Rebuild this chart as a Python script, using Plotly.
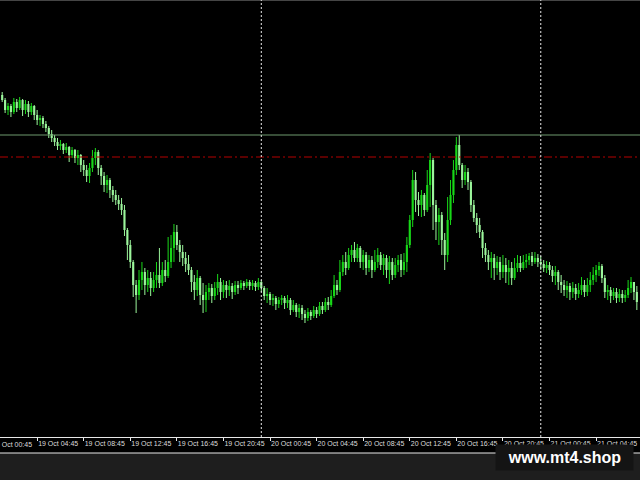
import pandas as pd
import plotly.graph_objects as go

# ---- data (M15 bars) ----
bar_start = "2020-10-19 01:45"
first_open = 1940.5

closes = [
    1940.0, 1939.0, 1939.4, 1938.8, 1939.8, 1939.2, 1940.0, 1939.0, 1939.6, 1938.8, 1939.4, 1938.5,
    1938.0, 1938.2, 1937.6, 1937.2, 1936.6, 1936.2, 1935.8, 1935.4, 1935.6, 1935.0, 1935.3, 1934.5,
    1935.0, 1934.2, 1934.5, 1933.5, 1933.0, 1932.4, 1933.2, 1934.2, 1934.8, 1933.2, 1932.4, 1931.5,
    1932.0, 1931.0, 1930.5, 1930.0, 1929.6, 1929.0, 1927.0, 1925.5, 1923.8, 1921.5, 1920.5, 1922.0,
    1922.8, 1921.5, 1922.2, 1921.2, 1922.0, 1922.5, 1921.7, 1923.0, 1922.4, 1923.8, 1925.2, 1926.8,
    1925.5, 1924.8, 1924.2, 1923.6, 1923.0, 1921.8, 1921.0, 1922.2, 1920.5, 1920.0, 1920.8, 1921.2,
    1920.4, 1921.2, 1921.8, 1920.8, 1921.5, 1921.0, 1921.4, 1920.8, 1921.5, 1921.2, 1921.7, 1921.4,
    1921.8, 1921.4, 1921.7, 1921.3, 1921.8, 1921.2, 1920.4, 1920.6, 1920.0, 1920.2, 1919.6, 1920.0,
    1920.2, 1919.7, 1920.0, 1919.0, 1919.5, 1918.8, 1919.2, 1918.6, 1918.2, 1918.8, 1918.4, 1919.0,
    1918.6, 1919.4, 1919.0, 1919.8, 1919.5, 1920.4, 1921.5, 1921.0, 1922.8, 1923.8, 1923.2, 1924.5,
    1925.0, 1924.2, 1925.2, 1923.8, 1924.5, 1923.2, 1924.0, 1923.0, 1923.8, 1924.5, 1923.5, 1924.2,
    1923.0, 1923.8, 1922.5, 1923.5, 1924.0, 1923.0, 1923.8, 1925.5, 1928.0, 1932.0, 1930.0, 1929.5,
    1930.5, 1929.0, 1931.5, 1934.0, 1929.5, 1927.8, 1928.5, 1926.0, 1924.5, 1928.0, 1930.5, 1933.0,
    1935.5, 1933.5, 1932.0, 1932.8, 1931.8, 1929.5, 1928.2, 1927.5, 1926.8, 1925.2, 1924.5, 1923.8,
    1924.2, 1923.2, 1923.8, 1922.8, 1923.5, 1922.8, 1923.2, 1922.2, 1923.2, 1923.7, 1923.2, 1923.8,
    1924.0, 1924.4, 1923.8, 1924.2, 1923.8, 1923.6, 1923.2, 1923.5, 1923.0, 1922.4, 1922.8, 1921.8,
    1921.5, 1921.0, 1921.4, 1920.8, 1921.2, 1920.6, 1921.0, 1921.5, 1920.8, 1921.5, 1922.0, 1922.5,
    1923.0, 1923.4, 1922.2, 1920.8, 1921.0, 1920.4, 1920.8, 1920.2, 1920.6, 1920.2, 1920.5, 1921.2,
    1921.8, 1920.8, 1919.8,
]

highs = [
    1940.8, 1940.2, 1939.7, 1939.6, 1940.2, 1940.1, 1940.3, 1940.1, 1940.0, 1939.9, 1939.7, 1939.5,
    1939.0, 1938.5, 1938.4, 1937.9, 1937.4, 1937.0, 1936.5, 1936.2, 1936.0, 1935.7, 1935.7, 1935.4,
    1935.3, 1935.1, 1935.0, 1934.6, 1934.0, 1933.5, 1933.7, 1935.0, 1935.2, 1935.0, 1933.5, 1932.8,
    1932.5, 1932.2, 1931.4, 1931.0, 1930.5, 1930.2, 1929.5, 1927.2, 1926.0, 1924.0, 1922.0, 1923.0,
    1923.8, 1923.2, 1923.0, 1922.8, 1922.8, 1923.8, 1925.2, 1923.8, 1924.0, 1926.3, 1926.5, 1927.6,
    1927.5, 1926.0, 1925.5, 1924.8, 1924.5, 1923.3, 1922.5, 1923.0, 1922.4, 1921.7, 1921.5, 1921.7,
    1921.6, 1921.8, 1922.6, 1922.2, 1922.0, 1921.9, 1922.0, 1921.7, 1921.9, 1921.9, 1922.0, 1921.9,
    1922.1, 1922.0, 1922.0, 1921.9, 1922.2, 1922.0, 1921.4, 1921.2, 1920.8, 1920.6, 1920.4, 1920.3,
    1920.5, 1920.4, 1920.5, 1920.2, 1920.0, 1919.7, 1919.6, 1919.5, 1919.0, 1919.2, 1919.0, 1919.4,
    1919.3, 1919.8, 1919.8, 1920.2, 1920.3, 1921.0, 1922.5, 1922.0, 1924.0, 1924.5, 1924.8, 1925.2,
    1925.5, 1925.8, 1925.6, 1925.4, 1925.0, 1924.8, 1924.5, 1924.4, 1925.0, 1925.2, 1924.8, 1924.6,
    1924.5, 1924.4, 1924.2, 1924.2, 1924.5, 1924.6, 1924.7, 1926.3, 1928.5, 1933.0, 1932.8, 1930.8,
    1931.0, 1930.7, 1933.0, 1934.7, 1934.2, 1930.0, 1929.2, 1928.8, 1926.7, 1930.3, 1932.0, 1934.0,
    1936.3, 1936.5, 1933.7, 1933.5, 1933.2, 1932.0, 1930.0, 1928.7, 1928.2, 1927.0, 1925.7, 1925.0,
    1924.8, 1924.6, 1924.4, 1924.3, 1924.5, 1924.2, 1924.0, 1923.8, 1924.2, 1924.5, 1924.4, 1924.5,
    1924.6, 1924.7, 1924.8, 1924.8, 1924.6, 1924.4, 1924.0, 1923.9, 1923.8, 1923.4, 1923.4, 1923.0,
    1922.5, 1922.0, 1921.9, 1921.7, 1921.8, 1921.6, 1921.7, 1922.3, 1922.0, 1922.2, 1922.8, 1923.3,
    1923.5, 1923.8, 1923.6, 1922.5, 1921.5, 1921.3, 1921.2, 1921.2, 1921.1, 1921.0, 1921.0, 1922.0,
    1922.3, 1921.8, 1921.4,
]

lows = [
    1939.8, 1938.7, 1938.5, 1938.3, 1938.6, 1938.8, 1939.0, 1938.4, 1938.6, 1938.3, 1938.5, 1938.0,
    1937.5, 1937.4, 1937.2, 1936.8, 1936.2, 1935.8, 1935.4, 1935.0, 1935.0, 1934.6, 1934.7, 1933.8,
    1934.2, 1933.7, 1933.5, 1932.8, 1932.4, 1931.8, 1931.7, 1932.8, 1933.5, 1932.5, 1931.5, 1930.8,
    1930.7, 1930.2, 1929.8, 1929.5, 1929.0, 1928.5, 1926.4, 1924.0, 1923.2, 1920.3, 1918.7, 1920.0,
    1921.0, 1920.5, 1920.8, 1920.4, 1920.8, 1921.2, 1921.2, 1921.4, 1921.8, 1922.2, 1923.2, 1923.8,
    1925.0, 1923.8, 1923.4, 1922.8, 1922.5, 1920.8, 1920.0, 1920.4, 1919.5, 1918.7, 1918.8, 1920.0,
    1919.7, 1920.0, 1920.5, 1920.0, 1920.2, 1920.2, 1920.4, 1920.1, 1920.5, 1920.6, 1921.0, 1921.0,
    1921.2, 1921.0, 1921.0, 1920.9, 1921.0, 1920.8, 1920.0, 1919.7, 1919.5, 1919.4, 1919.0, 1919.2,
    1919.5, 1919.1, 1919.2, 1918.5, 1918.8, 1918.3, 1918.2, 1918.0, 1917.7, 1917.9, 1918.0, 1918.2,
    1918.2, 1918.4, 1918.6, 1918.8, 1919.0, 1919.3, 1920.2, 1920.5, 1920.8, 1922.4, 1922.5, 1923.0,
    1923.8, 1923.8, 1923.8, 1923.2, 1923.0, 1922.5, 1922.8, 1922.2, 1922.8, 1923.2, 1923.0, 1922.5,
    1922.2, 1921.6, 1922.0, 1922.2, 1922.8, 1922.3, 1922.5, 1922.8, 1925.2, 1927.3, 1928.8, 1928.4,
    1928.3, 1928.4, 1928.8, 1929.3, 1927.0, 1926.0, 1925.5, 1924.5, 1923.0, 1923.8, 1927.5, 1929.7,
    1932.5, 1933.0, 1931.2, 1931.5, 1931.0, 1928.8, 1927.8, 1926.7, 1926.2, 1924.2, 1923.8, 1923.0,
    1922.2, 1922.0, 1922.5, 1922.0, 1922.2, 1921.7, 1921.5, 1921.5, 1922.0, 1922.8, 1922.8, 1923.0,
    1923.2, 1923.5, 1923.4, 1923.6, 1923.3, 1923.0, 1922.8, 1922.7, 1922.5, 1921.8, 1921.5, 1921.0,
    1920.7, 1920.4, 1920.2, 1920.0, 1920.2, 1920.0, 1920.2, 1920.5, 1920.3, 1920.4, 1920.8, 1921.5,
    1921.8, 1922.4, 1921.7, 1920.2, 1920.0, 1919.7, 1920.0, 1919.7, 1919.8, 1919.7, 1919.8, 1920.2,
    1920.7, 1920.0, 1919.0,
]

high_level = 1936.5      # thin grey-green horizontal line
red_level = 1934.3       # red dash-dot line
day_separators = ["2020-10-20 00:00", "2020-10-21 00:00"]

tick_vals = [
    "2020-10-19 00:45", "2020-10-19 04:45", "2020-10-19 08:45", "2020-10-19 12:45",
    "2020-10-19 16:45", "2020-10-19 20:45", "2020-10-20 00:45", "2020-10-20 04:45",
    "2020-10-20 08:45", "2020-10-20 12:45", "2020-10-20 16:45", "2020-10-20 20:45",
    "2020-10-21 00:45", "2020-10-21 04:45",
]
tick_text = [
    "19 Oct 00:45", "19 Oct 04:45", "19 Oct 08:45", "19 Oct 12:45",
    "19 Oct 16:45", "19 Oct 20:45", "20 Oct 00:45", "20 Oct 04:45",
    "20 Oct 08:45", "20 Oct 12:45", "20 Oct 16:45", "20 Oct 20:45",
    "21 Oct 00:45", "21 Oct 04:45",
]

x_range = ["2020-10-19 01:33:40", "2020-10-21 08:31:15"]
y_range = [1906.3, 1950.0]

BULL = "#18d818"
BEAR = "#9cf59c"

# ---- build ----
times = pd.date_range(bar_start, periods=len(closes), freq="15min")
opens = [first_open] + closes[:-1]

fig = go.Figure()
for is_bull, col in ((True, BULL), (False, BEAR)):
    idx = [i for i in range(len(closes)) if (closes[i] >= opens[i]) == is_bull]
    # wicks
    wx, wy = [], []
    for i in idx:
        wx += [times[i], times[i], None]
        wy += [lows[i], highs[i], None]
    fig.add_trace(go.Scatter(x=wx, y=wy, mode="lines", line=dict(color=col, width=1),
                             hoverinfo="skip", showlegend=False))
    # bodies
    base = [min(opens[i], closes[i]) for i in idx]
    size = [max(abs(closes[i] - opens[i]), 0.12) for i in idx]
    fig.add_trace(go.Bar(x=[times[i] for i in idx], y=size, base=base,
                         width=[11 * 60 * 1000] * len(idx),
                         marker=dict(color=col, line=dict(width=0)),
                         hoverinfo="skip", showlegend=False))

LBL_FONT = dict(family="Liberation Sans Narrow, Liberation Sans, sans-serif", size=7, color="#dcdcdc")

shapes = []
shapes.append(dict(type="rect", xref="paper", yref="paper", x0=0, x1=1,
                   y0=-16 / 437, y1=0, fillcolor="black", line=dict(width=0), layer="below"))
shapes.append(dict(type="line", xref="paper", yref="paper", x0=0, x1=1,
                   y0=-16 / 437, y1=-16 / 437, line=dict(color="#e8e8e8", width=1)))
shapes.append(dict(type="line", xref="paper", yref="paper", x0=0, x1=1,
                   y0=1, y1=1, line=dict(color="#8a8a8a", width=1)))
shapes.append(dict(type="line", xref="paper", yref="y", x0=0, x1=1,
                   y0=high_level, y1=high_level, line=dict(color="#6f9a6f", width=1)))
shapes.append(dict(type="line", xref="paper", yref="y", x0=0, x1=1,
                   y0=red_level, y1=red_level, line=dict(color="#b40000", width=1, dash="8px,3px,2px,3px")))
for d in day_separators:
    shapes.append(dict(type="line", xref="x", yref="paper", x0=d, x1=d, y0=0, y1=1,
                       line=dict(color="#e6e6e6", width=1, dash="2px,2px")))

annotations = [
    dict(text="<b>www.mt4.shop</b>", xref="paper", yref="paper",
         x=564.5 / 640, y=-20.5 / 437, xanchor="center", yanchor="middle",
         showarrow=False, bgcolor="#141414", width=137, height=25, borderpad=0,
         font=dict(family="Liberation Sans, Arial, sans-serif", size=16, color="white")),
    dict(text=tick_text[0], xref="paper", yref="paper",
         x=-9.6 / 640, y=-7 / 437, xanchor="left", yanchor="middle", showarrow=False,
         font=LBL_FONT),
]

fig.update_layout(
    width=640, height=480,
    margin=dict(l=0, r=0, t=0, b=43, pad=0),
    paper_bgcolor="#1e1e1e", plot_bgcolor="black",
    barmode="overlay",
    shapes=shapes, annotations=annotations,
    showlegend=False, hovermode=False,
    xaxis=dict(
        type="date", range=x_range,
        showgrid=False, zeroline=False, showline=True, linecolor="#e8e8e8", linewidth=1,
        ticks="outside", ticklen=3, tickcolor="#e8e8e8", tickwidth=1,
        tickvals=tick_vals, ticktext=tick_text, ticklabelposition="outside right",
        tickangle=0, tickfont=LBL_FONT, fixedrange=True,
    ),
    yaxis=dict(range=y_range, showgrid=False, zeroline=False, showticklabels=False,
               showline=False, ticks="", fixedrange=True),
)

fig.write_html("out.html", config={"displayModeBar": False},
               post_script="document.body.style.margin='0px';document.body.style.background='#1e1e1e';")
